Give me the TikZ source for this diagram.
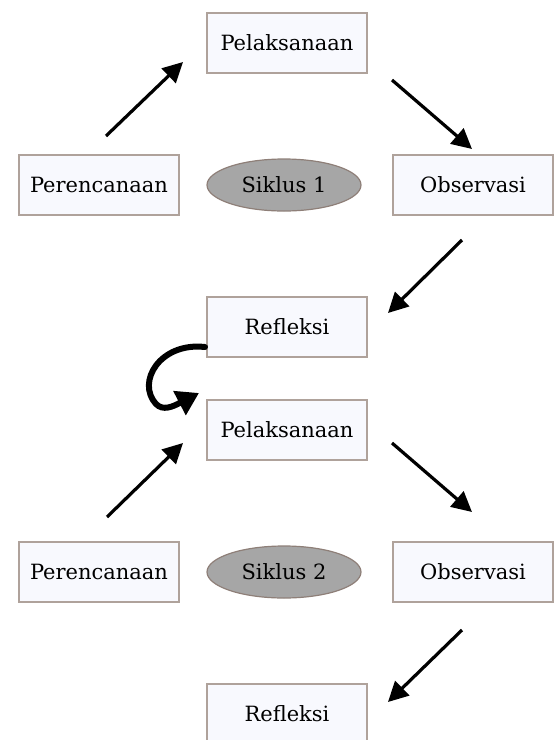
\documentclass[tikz,border=0pt]{standalone}
\usepackage{fontspec}
\setmainfont{DejaVu Serif}
\usepackage{tikz}
\usetikzlibrary{arrows.meta}
\usetikzlibrary{shapes.geometric}
\usetikzlibrary{positioning}
\definecolor{boxfill}{HTML}{F8F9FE}
\definecolor{boxline}{HTML}{AFA29B}
\definecolor{ovalfill}{HTML}{A6A6A6}
\definecolor{ovalline}{HTML}{8E7F78}
\tikzstyle{arrow} = [line width=1.6pt,-{Triangle[length=10pt,width=10pt]}]
\tikzstyle{hook} = [line width=3pt,line cap=round,-{Triangle[length=11pt,width=13pt]}]
\tikzstyle{tahap} = [rectangle, draw=boxline, fill=boxfill, line width=0.6pt, minimum width=80pt, minimum height=30pt, font=\fontsize{10.5}{12}\selectfont]
\tikzstyle{siklus} = [ellipse, draw=ovalline, fill=ovalfill, line width=0.6pt, inner sep=0pt, minimum width=77pt, minimum height=26pt, font=\fontsize{10.5}{12}\selectfont]

\begin{document}
\begin{tikzpicture}[x=0.5pt, y=-0.5pt]
		\useasboundingbox (0,0) rectangle (555,740);
		% siklus 1
		\node (pel1) [tahap] at (287,43) {Pelaksanaan};
		\node (sik1) [siklus, below of=pel1, node distance=71pt, xshift=-1.5pt] {Siklus 1};
		\node (ren1) [tahap, below of=pel1, node distance=71pt, xshift=-94pt] {Perencanaan};
		\node (obs1) [tahap, below of=pel1, node distance=71pt, xshift=93pt] {Observasi};
		\node (ref1) [tahap, below of=pel1, node distance=142pt] {Refleksi};
		\coordinate (a1) at (106,136);
		\coordinate (b1) at (183,62);
		\coordinate (a2) at (392,80);
		\coordinate (b2) at (472,149);
		\coordinate (a3) at (462,240);
		\coordinate (b3) at (388,313);
		\draw [arrow] (a1) -- (b1);
		\draw [arrow] (a2) -- (b2);
		\draw [arrow] (a3) -- (b3);
		% siklus 2
		\node (pel2) [tahap, below of=ref1, node distance=51.5pt] {Pelaksanaan};
		\node (sik2) [siklus, below of=pel2, node distance=71pt, xshift=-1.5pt] {Siklus 2};
		\node (ren2) [tahap, below of=pel2, node distance=71pt, xshift=-94pt] {Perencanaan};
		\node (obs2) [tahap, below of=pel2, node distance=71pt, xshift=93pt] {Observasi};
		\node (ref2) [tahap, below of=pel2, node distance=142pt] {Refleksi};
		\coordinate (a4) at (107,517);
		\coordinate (b4) at (183,443);
		\coordinate (a5) at (392,443);
		\coordinate (b5) at (472,512);
		\coordinate (a6) at (462,630);
		\coordinate (b6) at (388,702);
		\draw [arrow] (a4) -- (b4);
		\draw [arrow] (a5) -- (b5);
		\draw [arrow] (a6) -- (b6);
		% refleksi ke siklus berikutnya
		\coordinate (h0) at (205,347);
		\coordinate (h1) at (199,393);
		\draw [hook] (h0) .. controls (160,342) and (136,382) .. (156,404) .. controls (163,411) and (172,407) .. (h1);
\end{tikzpicture}
\end{document}
